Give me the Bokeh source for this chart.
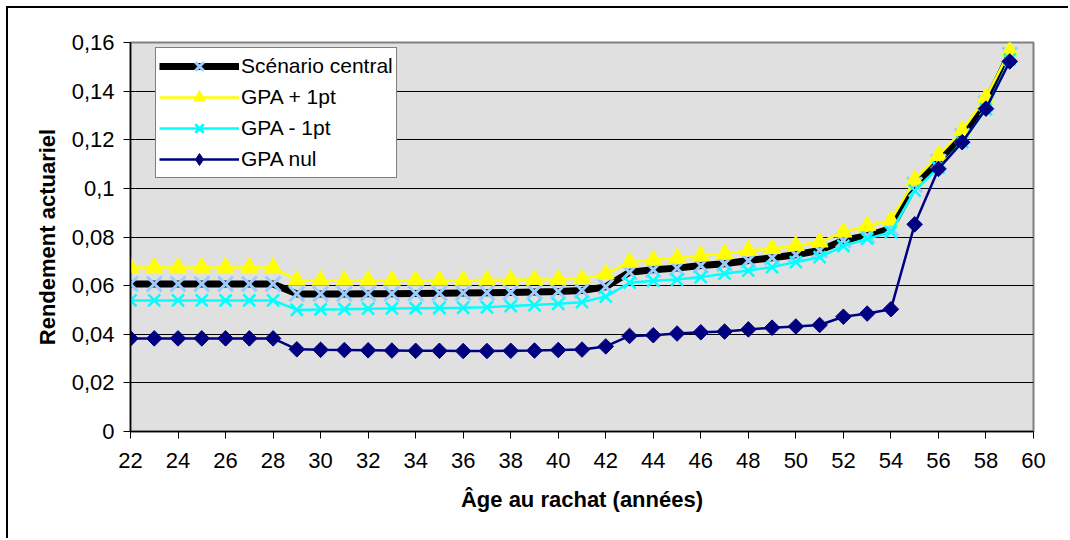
from bokeh.plotting import figure
from bokeh.models import FixedTicker, Legend, LegendItem
from bokeh.embed import file_html
from bokeh.resources import INLINE
import numpy as np

# Age at buy-back (years)
ages = list(range(22, 60))

# Actuarial yield per scenario
central = [0.0607] * 7 + [
    0.0566, 0.0566, 0.0566, 0.0567, 0.0567, 0.0568, 0.0569, 0.0570, 0.0571, 0.0572, 0.0574, 0.0576, 0.0580,
    0.0595, 0.0655, 0.0665, 0.0672, 0.0683, 0.0690, 0.0703, 0.0715, 0.0727, 0.0745, 0.0786, 0.0805, 0.0835,
    0.1015, 0.1110, 0.1215, 0.1350, 0.1550,
]
gpa_plus = [0.0675] * 7 + [
    0.0622, 0.0622, 0.0622, 0.0622, 0.0622, 0.0622, 0.0622, 0.0622, 0.0623, 0.0624, 0.0625, 0.0626, 0.0628,
    0.0648, 0.0697, 0.0706, 0.0713, 0.0724, 0.0731, 0.0745, 0.0752, 0.0765, 0.0779, 0.0820, 0.0847, 0.0868,
    0.1035, 0.1135, 0.1238, 0.1375, 0.1565,
]
gpa_minus = [0.0539] * 7 + [
    0.0500, 0.0502, 0.0503, 0.0505, 0.0506, 0.0507, 0.0508, 0.0509, 0.0511, 0.0516, 0.0520, 0.0525, 0.0532,
    0.0555, 0.0612, 0.0620, 0.0625, 0.0635, 0.0649, 0.0662, 0.0676, 0.0697, 0.0717, 0.0763, 0.0793, 0.0820,
    0.0991, 0.1085, 0.1190, 0.1325, 0.1530,
]
gpa_nul = [0.0383] * 7 + [
    0.0338, 0.0336, 0.0335, 0.0334, 0.0333, 0.0332, 0.0332, 0.0331, 0.0331, 0.0332, 0.0333, 0.0335, 0.0337,
    0.0350, 0.0393, 0.0396, 0.0403, 0.0408, 0.0411, 0.0420, 0.0427, 0.0432, 0.0438, 0.0472, 0.0485, 0.0503,
    0.0852, 0.1080, 0.1190, 0.1328, 0.1522,
]

series_names = ["Scénario central", "GPA + 1pt", "GPA - 1pt", "GPA nul"]

x_ticks = list(range(22, 61, 2))
y_ticks = [0, 0.02, 0.04, 0.06, 0.08, 0.1, 0.12, 0.14, 0.16]
y_tick_labels = ["0", "0,02", "0,04", "0,06", "0,08", "0,1", "0,12", "0,14", "0,16"]

FONT = "Liberation Sans"
NAVY = "#000080"

p = figure(
    width=1062, height=532,
    x_range=(22, 60), y_range=(0, 0.16),
    output_backend="svg", toolbar_location=None,
    min_border_left=122, min_border_top=34, min_border_right=37, min_border_bottom=109,
    background_fill_color="#E0E0E0",
    border_fill_color="white",
)
p.styles = {
    "margin-left": "6px", "margin-top": "6px",
    "border-top": "2px solid #000000", "border-left": "2px solid #000000",
}
p.outline_line_color = "#808080"
p.outline_line_width = 2

# grid
p.xgrid.visible = False
p.ygrid.ticker = FixedTicker(ticks=y_ticks)
p.ygrid.grid_line_color = "#000000"
p.ygrid.grid_line_width = 1

# axes
p.xaxis.ticker = FixedTicker(ticks=x_ticks)
p.yaxis.ticker = FixedTicker(ticks=y_ticks)
p.yaxis.major_label_overrides = dict(zip(y_ticks, y_tick_labels))
for ax in (p.xaxis[0], p.yaxis[0]):
    ax.axis_line_color = "#000000"
    ax.axis_line_width = 1.5
    ax.major_tick_line_color = "#000000"
    ax.major_tick_out = 7
    ax.major_tick_in = 0
    ax.minor_tick_line_color = None
    ax.major_label_text_font = FONT
    ax.major_label_text_font_size = "22px"
    ax.major_label_text_color = "#000000"
    ax.axis_label_text_font = FONT
    ax.axis_label_text_font_size = "22px"
    ax.axis_label_text_font_style = "bold"
    ax.axis_label_text_color = "#000000"
p.xaxis.axis_label = "Âge au rachat (années)"
p.yaxis.axis_label = "Rendement actuariel"
p.xaxis.major_label_standoff = 14
p.yaxis.major_label_standoff = 9
p.xaxis.axis_label_standoff = 16
p.yaxis.axis_label_standoff = 9

# series
r_c_line = p.line(ages, central, line_color="#000000", line_width=7)
r_c_mark = p.scatter(ages, central, marker="x", size=21, line_color="#99CCFF", line_width=3)

r_p_line = p.line(ages, gpa_plus, line_color="#FFFF00", line_width=2.5)
r_p_mark = p.scatter(ages, gpa_plus, marker="triangle", size=17, fill_color="#FFFF00", line_color="#FFFF00")

r_m_line = p.line(ages, gpa_minus, line_color="#00FFFF", line_width=2.5)
r_m_mark = p.scatter(ages, gpa_minus, marker="x", size=17, line_color="#00FFFF", line_width=2.5)

r_n_line = p.line(ages, gpa_nul, line_color=NAVY, line_width=2.5)
r_n_mark = p.scatter(ages, gpa_nul, marker="square", angle=np.pi / 4, size=11,
                     fill_color=NAVY, line_color=NAVY)
# diamond swatch used by the legend entry (zero size on the chart itself)
r_n_key = p.scatter(ages, gpa_nul, marker="diamond", size=0, fill_color=NAVY, line_color=NAVY)

legend = Legend(
    items=[
        LegendItem(label=series_names[0], renderers=[r_c_line, r_c_mark]),
        LegendItem(label=series_names[1], renderers=[r_p_line, r_p_mark]),
        LegendItem(label=series_names[2], renderers=[r_m_line, r_m_mark]),
        LegendItem(label=series_names[3], renderers=[r_n_line, r_n_key]),
    ],
    location=(25, 253),
    label_text_font=FONT,
    label_text_font_size="21px",
    label_text_color="#000000",
    label_standoff=2,
    glyph_width=80,
    glyph_height=30,
    label_height=30,
    spacing=1,
    padding=3,
    margin=0,
    border_line_color="#000000",
    border_line_width=1.5,
    background_fill_color="white",
    background_fill_alpha=1,
)
p.add_layout(legend, "center")

open("out.html", "w").write(file_html(p, INLINE))
